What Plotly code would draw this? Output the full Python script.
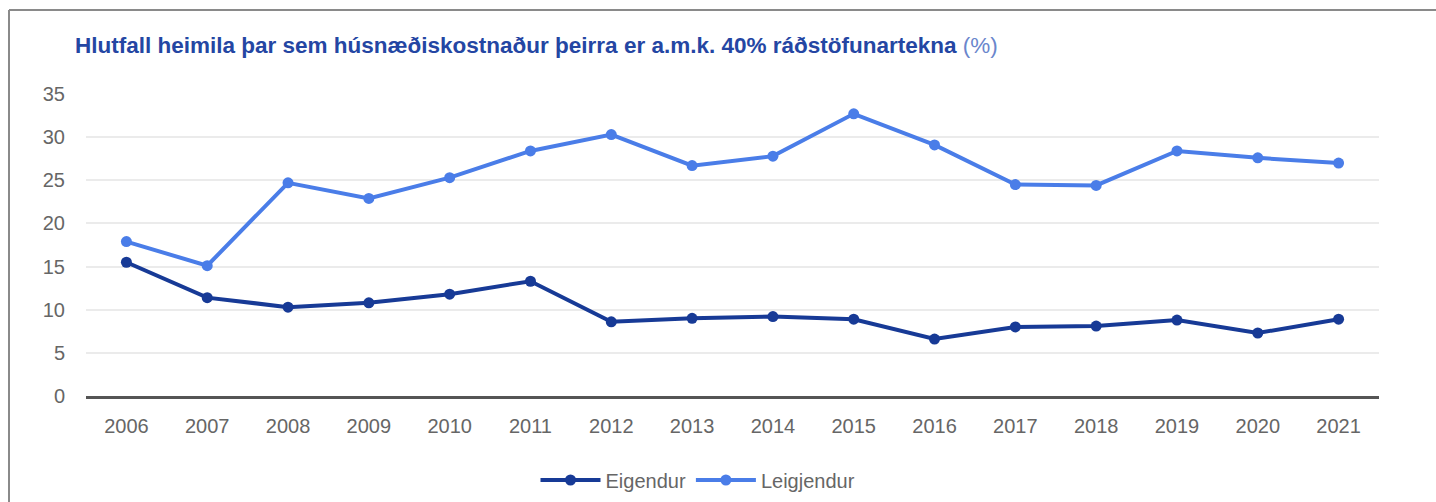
import plotly.graph_objects as go

years = [str(y) for y in range(2006, 2022)]
eigendur = [15.5, 11.4, 10.3, 10.8, 11.8, 13.3, 8.6, 9.0, 9.2, 8.9, 6.6, 8.0, 8.1, 8.8, 7.3, 8.9]
leigjendur = [17.9, 15.1, 24.7, 22.9, 25.3, 28.4, 30.3, 26.7, 27.8, 32.7, 29.1, 24.5, 24.4, 28.4, 27.6, 27.0]
y_ticks = [0, 5, 10, 15, 20, 25, 30, 35]

title_main = "Hlutfall heimila þar sem húsnæðiskostnaður þeirra er a.m.k. 40% ráðstöfunartekna"
title_unit = "(%)"

DARK = "#173a96"
LIGHT = "#4a7de8"
FONT = "Liberation Sans, Arial, sans-serif"

fig = go.Figure()
fig.add_trace(go.Scatter(x=years, y=eigendur, name="Eigendur", mode="lines+markers",
                         line=dict(color=DARK, width=4), marker=dict(size=11, color=DARK)))
fig.add_trace(go.Scatter(x=years, y=leigjendur, name="Leigjendur", mode="lines+markers",
                         line=dict(color=LIGHT, width=4), marker=dict(size=11, color=LIGHT)))

L, R, T, B = 86, 57, 94, 106
W, H = 1436, 502
pw, ph = W - L - R, H - T - B

def px(x):
    return (x - L) / pw

def py(y):
    return (H - B - y) / ph

fig.update_layout(
    width=W, height=H,
    margin=dict(l=L, r=R, t=T, b=B, autoexpand=False),
    paper_bgcolor="white", plot_bgcolor="white",
    font=dict(family=FONT, color="#666666", size=20),
    title=dict(
        text=f"<b>{title_main}</b> <span style='color:#6a86cc'>{title_unit}</span>",
        x=75 / W, xanchor="left", xref="container",
        y=1 - 45 / H, yanchor="middle",
        font=dict(family=FONT, size=22.5, color="#2446a3"),
    ),
    showlegend=True,
    legend=dict(orientation="h", x=px(698), xanchor="center", y=py(480), yanchor="middle",
                font=dict(size=20, color="#666666"), itemwidth=60,
                bgcolor="rgba(0,0,0,0)"),
    xaxis=dict(type="category", range=[-0.5, len(years) - 0.5], showgrid=False,
               showline=True, linecolor="#555555", linewidth=3, ticks="",
               ticklabelstandoff=10, tickfont=dict(size=20, color="#666666"),
               fixedrange=True),
    yaxis=dict(range=[0, 35], tickvals=y_ticks, showgrid=True, gridcolor="#ebebeb",
               gridwidth=1.5, zeroline=False, showline=False, ticks="",
               ticklabelstandoff=20, tickfont=dict(size=20, color="#666666"),
               fixedrange=True),
    shapes=[
        dict(type="line", xref="paper", yref="paper", x0=px(9), x1=px(9), y0=py(10), y1=py(H),
             line=dict(color="#8a8a8a", width=2)),
        dict(type="line", xref="paper", yref="paper", x0=px(9), x1=px(W), y0=py(10), y1=py(10),
             line=dict(color="#8a8a8a", width=2)),
    ],
)

fig.write_html("out.html", config={"displayModeBar": False},
               post_script="document.body.style.margin='0';document.body.style.overflow='hidden';"
                           "document.documentElement.style.overflow='hidden';")
